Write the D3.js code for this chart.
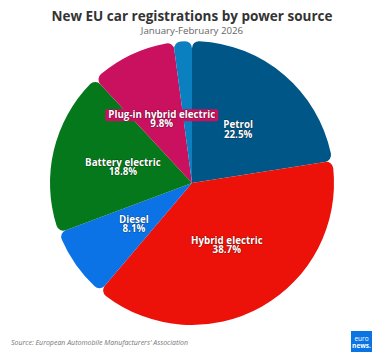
<!DOCTYPE html>
<html>
<head>
<meta charset="utf-8">
<script src="https://cdn.jsdelivr.net/npm/d3@7"></script>
<style>
  html, body { margin: 0; padding: 0; background: #fff; }
  svg { display: block; }
  text { font-family: "Open Sans", "Noto Sans", sans-serif; }
</style>
</head>
<body>
<svg id="chart" width="382" height="357"></svg>
<script>
const categories = ["Petrol", "Hybrid electric", "Diesel", "Battery electric", "Plug-in hybrid electric", "Other"];
const shares = [22.5, 38.7, 8.1, 18.8, 9.8, 2.1];
const showLabel = [true, true, true, true, true, false];
const colors = ["#005687", "#ec1109", "#0b73e6", "#05781b", "#c9115f", "#0a80c0"];
const titleText = "New EU car registrations by power source";
const subtitleText = "January-February 2026";
const sourceText = "Source: European Automobile Manufacturers' Association";

const W = 382, H = 357;
const cx = 192, cy = 183, R = 142;

const svg = d3.select("#chart");
svg.append("rect").attr("width", W).attr("height", H).attr("fill", "#fff");

svg.append("text")
  .attr("x", 192).attr("y", 21)
  .attr("text-anchor", "middle")
  .attr("font-size", 13.5).attr("font-weight", 700).attr("fill", "#333")
  .text(titleText);

svg.append("text")
  .attr("x", 192).attr("y", 34)
  .attr("text-anchor", "middle")
  .attr("font-size", 9.7).attr("fill", "#666")
  .text(subtitleText);

const data = categories.map((c, i) => ({ name: c, value: shares[i], color: colors[i], label: showLabel[i] }));

const pie = d3.pie().sort(null).value(d => d.value).startAngle(0).endAngle(2 * Math.PI);
const arcs = pie(data);
const arc = d3.arc().innerRadius(0).outerRadius(R).cornerRadius(7);
const labelArc = d3.arc().innerRadius(0).outerRadius(R);

const g = svg.append("g").attr("transform", `translate(${cx},${cy})`);

g.selectAll("path.slice")
  .data(arcs)
  .join("path")
  .attr("class", "slice")
  .attr("d", arc)
  .attr("fill", d => d.data.color);

const labels = g.selectAll("g.lab")
  .data(arcs.filter(d => d.data.label))
  .join("g")
  .attr("class", "lab")
  .attr("transform", d => { const c = labelArc.centroid(d); return `translate(${c[0]},${c[1]})`; });

labels.each(function(d) {
  const sel = d3.select(this);
  const common = s => s.attr("text-anchor", "middle")
    .attr("font-size", 9.8).attr("font-weight", 700).attr("fill", "#fff")
    .attr("stroke", "rgba(0,0,0,0.35)").attr("stroke-width", 1.2)
    .attr("paint-order", "stroke").attr("stroke-linejoin", "round");
  const t1 = sel.append("text").attr("x", 0).attr("y", -1).text(d.data.name).call(common);
  sel.append("text").attr("x", 0).attr("y", 8.5).text(d.data.value.toFixed(1) + "%").call(common);
  if (d.data.name === "Plug-in hybrid electric") {
    const bb = t1.node().getBBox();
    sel.insert("rect", "text")
      .attr("x", bb.x - 3).attr("y", -9.5)
      .attr("width", bb.width + 6).attr("height", 12)
      .attr("rx", 2)
      .attr("fill", d.data.color);
  }
});

svg.append("text")
  .attr("x", 11).attr("y", 345)
  .attr("font-size", 7).attr("font-style", "italic").attr("fill", "#777")
  .text(sourceText);

// logo
const logo = svg.append("g").attr("transform", "translate(351,331)");
logo.append("rect").attr("width", 21).attr("height", 21).attr("fill", "#0a74e3");
logo.append("text").attr("x", 10.5).attr("y", 10).attr("text-anchor", "middle")
  .attr("font-size", 6.5).attr("fill", "#fff").text("euro");
logo.append("text").attr("x", 10.5).attr("y", 16.5).attr("text-anchor", "middle")
  .attr("font-size", 6.5).attr("font-weight", 700).attr("fill", "#fff").text("news.");
</script>
</body>
</html>
